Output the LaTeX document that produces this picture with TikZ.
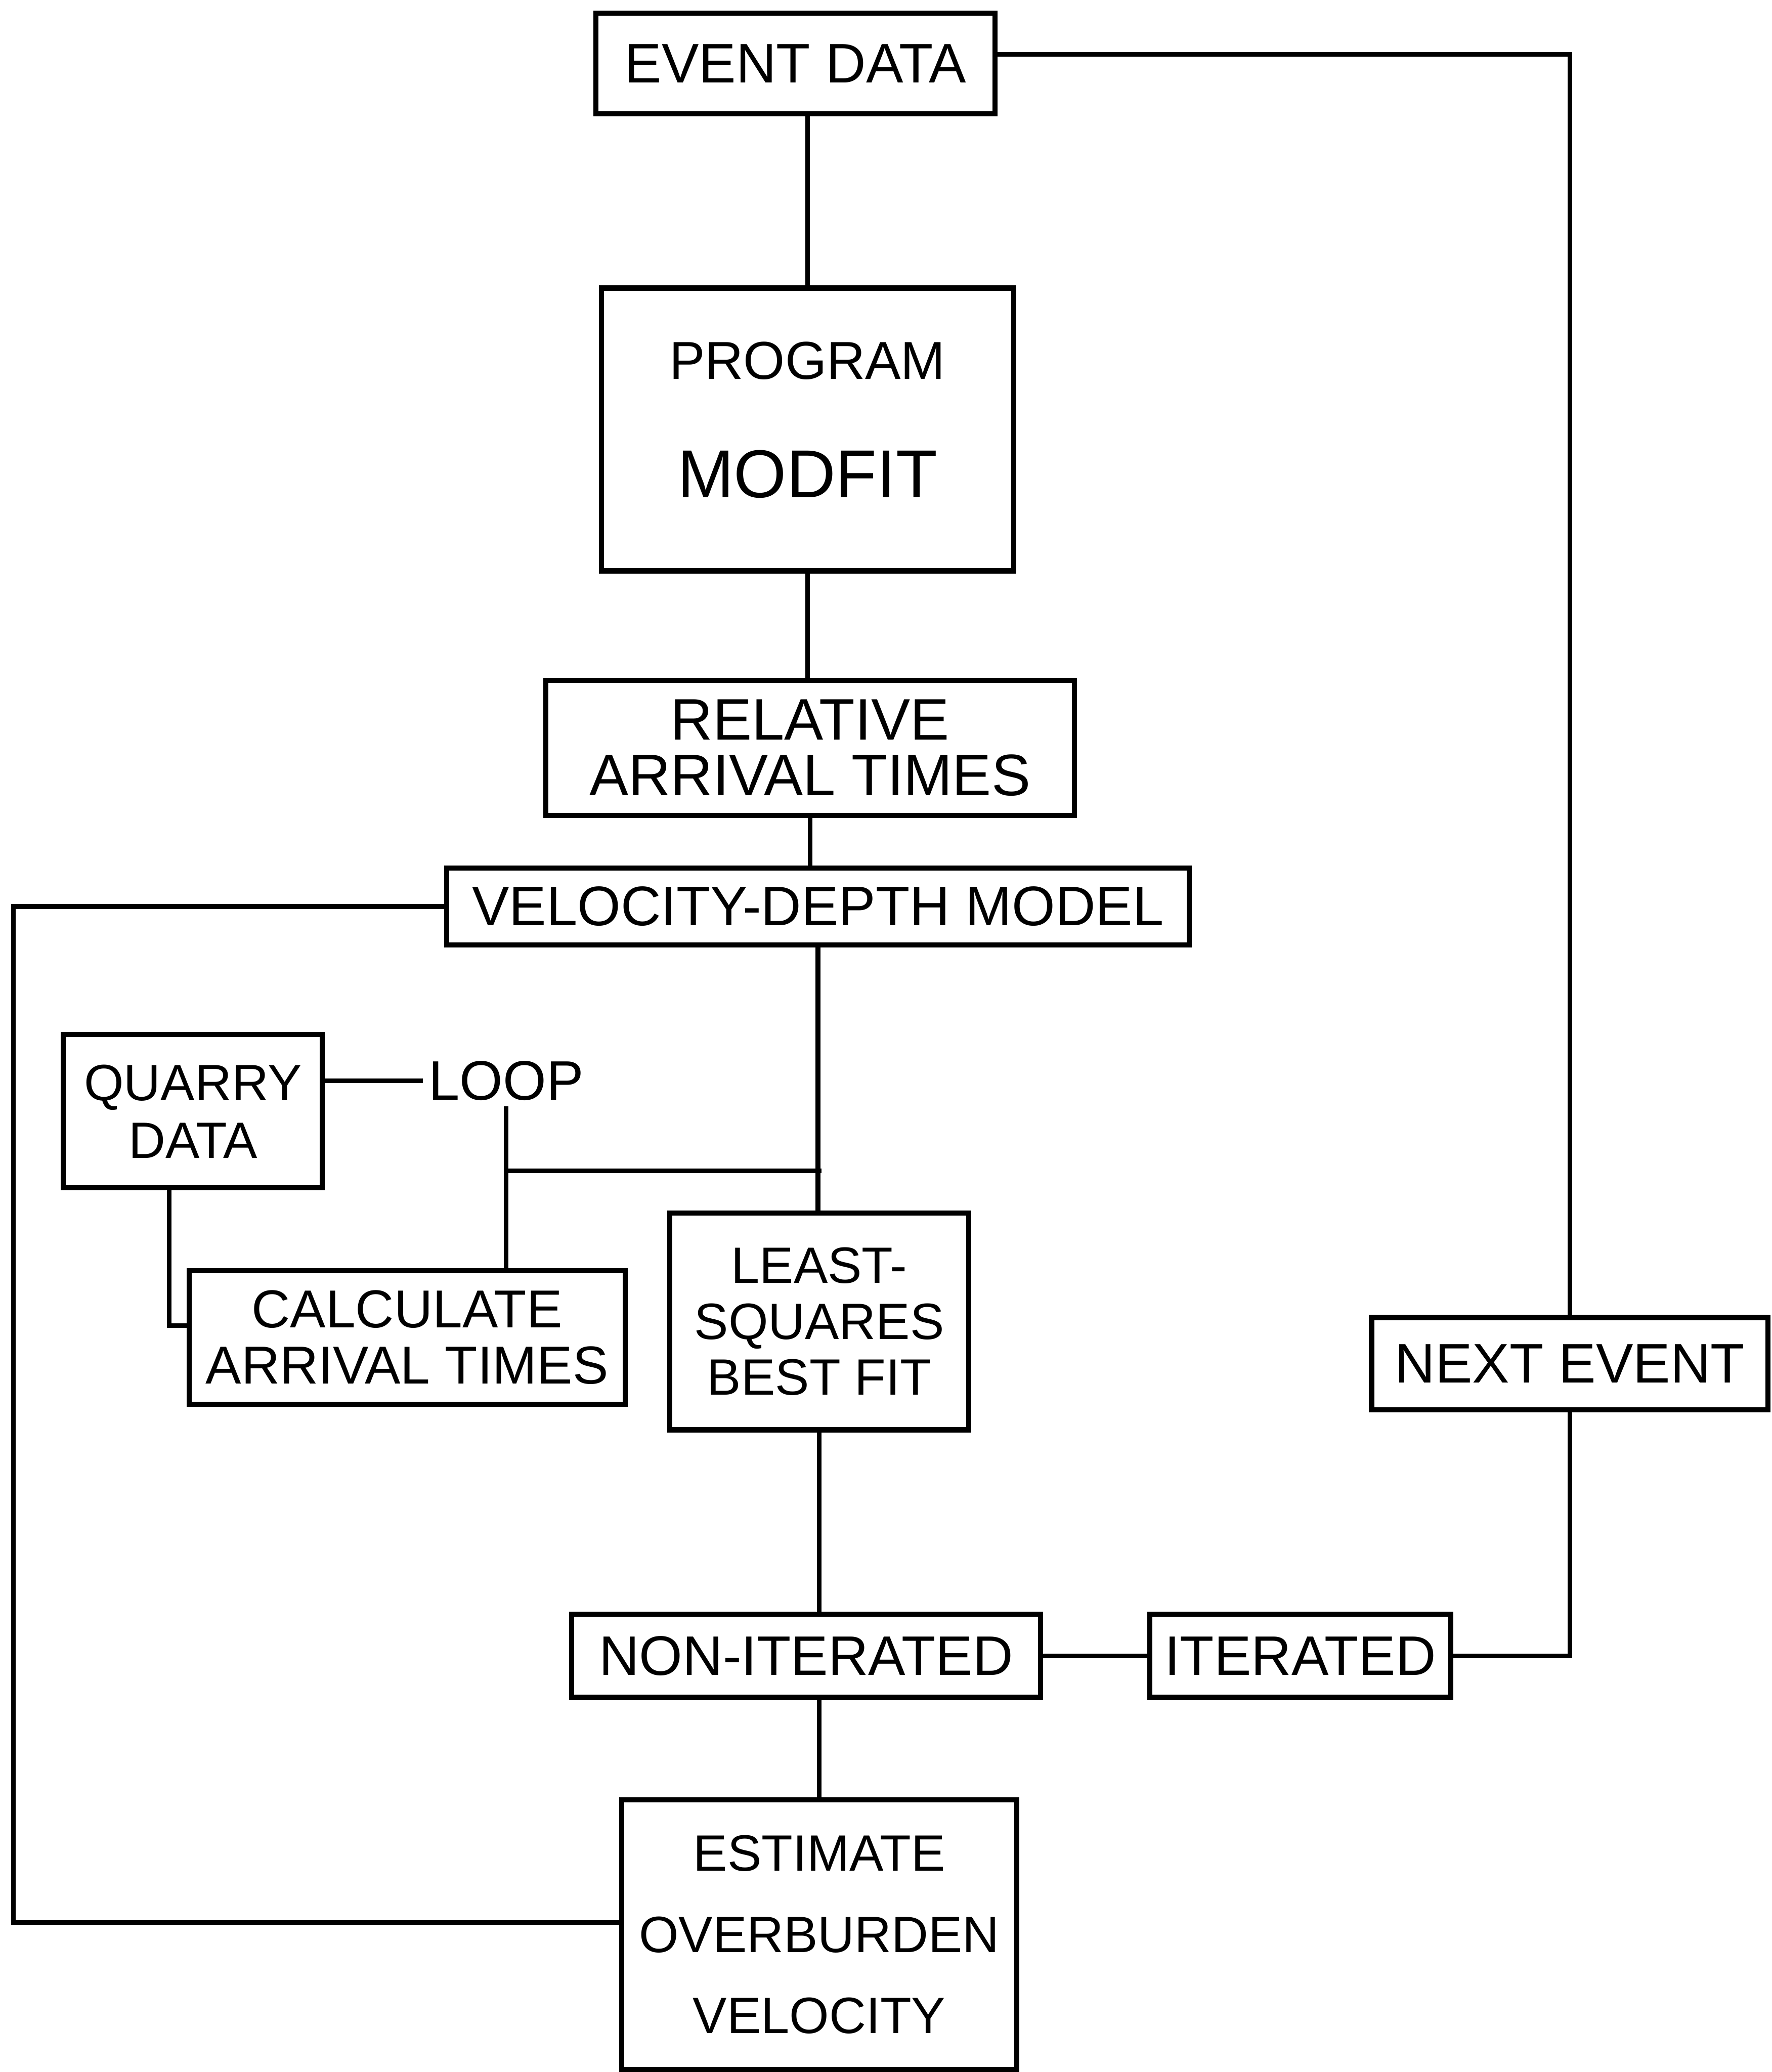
\documentclass[tikz,border=0pt]{standalone}
\usepackage{fontspec}
\setmainfont{Liberation Sans}
\usepackage{tikz}
\tikzset{
  mfbox/.style={draw=black, line width=1.1pt, fill=white, align=center, inner sep=0pt, font=\fontsize{12}{12}\selectfont},
  mfline/.style={line width=1pt, draw=black, line cap=rect},
  mftext/.style={inner sep=1.5pt, font=\fontsize{12}{12}\selectfont},
}

\begin{document}
\begin{tikzpicture}[x=0.1mm, y=-0.1mm]
\useasboundingbox (0,0) rectangle (1341,1568);
\node[mfbox, minimum width=30.2mm, minimum height=7.6mm] (evdata) at (602,48) {EVENT DATA};
\node[mfbox, minimum width=31.2mm, minimum height=21.4mm, font=\fontsize{11.5}{11.5}\selectfont] (prog) at (611,325) {PROGRAM\\[14pt]{\fontsize{14.6}{14.6}\selectfont MODFIT\rule[-4.2pt]{0pt}{4.2pt}}};
\node[mfbox, minimum width=40mm, minimum height=10.2mm, font=\fontsize{12.6}{12}\selectfont] (relarr) at (613,566) {RELATIVE\\ARRIVAL TIMES};
\node[mfbox, minimum width=56.2mm, minimum height=5.8mm] (vdm) at (619,686) {VELOCITY-DEPTH MODEL};
\node[mfbox, minimum width=19.6mm, minimum height=11.6mm, font=\fontsize{11}{12.4}\selectfont] (quarry) at (146,841) {QUARRY\\DATA};
\node[mftext] (loop) at (383,818) {LOOP};
\node[mfbox, minimum width=33mm, minimum height=10.1mm, font=\fontsize{11.5}{12}\selectfont] (calc) at (308,1012) {CALCULATE\\ARRIVAL TIMES};
\node[mfbox, minimum width=22.6mm, minimum height=16.4mm, font=\fontsize{11}{12}\selectfont] (lsq) at (620,1000) {LEAST-\\SQUARES\\BEST FIT};
\node[mfbox, minimum width=35.5mm, minimum height=6.3mm] (nonit) at (610,1253) {NON-ITERATED};
\node[mfbox, minimum width=22.8mm, minimum height=6.3mm] (iter) at (984,1253) {ITERATED};
\node[mfbox, minimum width=30mm, minimum height=7mm] (next) at (1188,1032) {NEXT EVENT};
\node[mfbox, minimum width=29.9mm, minimum height=20.4mm, font=\fontsize{11}{17.5}\selectfont] (estim) at (620,1464) {ESTIMATE\\OVERBURDEN\\VELOCITY};
\coordinate (lf) at (10,1000);
\coordinate (jn) at (loop.south |- 0,886);
\draw[mfline] ([yshift=0.7mm]evdata.east) -| (next.north);
\draw[mfline] (prog.north |- evdata.south) -- (prog.north);
\draw[mfline] (prog.south) -- (prog.south |- relarr.north);
\draw[mfline] (relarr.south) -- (relarr.south |- vdm.north);
\draw[mfline] (vdm.west) -| (lf) |- ([yshift=0.9mm]estim.west);
\draw[mfline] (vdm.south) -- (vdm.south |- lsq.north);
\draw[mfline] (loop.west -| quarry.east) -- (loop.west);
\draw[mfline] (loop.south) -- (loop.south |- calc.north);
\draw[mfline] (jn) -- (jn -| lsq.north);
\draw[mfline] ([xshift=-1.8mm]quarry.south) |- ([yshift=0.9mm]calc.west);
\draw[mfline] (lsq.south) -- (lsq.south |- nonit.north);
\draw[mfline] (nonit.east) -- (iter.west);
\draw[mfline] (iter.east) -| (next.south);
\draw[mfline] (nonit.south -| estim.north) -- (estim.north);
\end{tikzpicture}
\end{document}
